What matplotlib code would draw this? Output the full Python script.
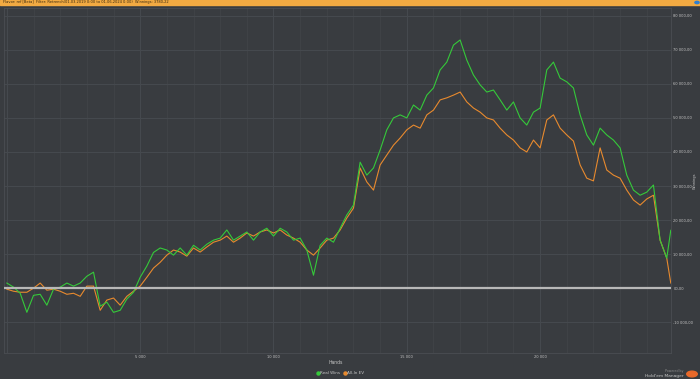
import matplotlib
matplotlib.use("Agg")
import matplotlib.pyplot as plt
from matplotlib.lines import Line2D
from matplotlib.ticker import FuncFormatter, MultipleLocator
import numpy as np

# hands played (x) every 250 hands, plus the last recorded hand
hands = list(range(0, 25000, 250)) + [24900]

# winnings in thousands
real_wins = [
    1.5, 0.3, -1.5, -7.1, -2.1, -1.8, -5.0, -0.3, 0.3, 1.5,
    0.6, 1.5, 3.5, 4.7, -5.3, -4.1, -7.1, -6.5, -3.2, -1.2,
    3.2, 6.5, 10.5, 11.8, 11.2, 9.7, 11.8, 9.7, 12.6, 11.2,
    12.9, 14.1, 14.7, 17.1, 14.1, 15.3, 16.5, 14.1, 16.5, 17.6,
    15.3, 17.6, 16.5, 14.1, 14.7, 11.2, 3.8, 12.6, 14.7, 13.5,
    17.6, 21.5, 24.4, 37.0, 33.2, 35.3, 40.6, 46.5, 50.0, 50.9,
    50.0, 53.8, 52.3, 56.7, 58.8, 64.1, 66.4, 71.4, 72.9, 67.0,
    62.6, 59.7, 57.6, 58.2, 55.3, 52.3, 54.7, 50.0, 47.9, 51.7,
    52.9, 64.1, 66.4, 61.7, 60.6, 58.8, 50.9, 45.0, 42.0, 47.0,
    45.0, 43.5, 41.2, 33.2, 28.8, 27.3, 28.2, 30.3, 14.1, 8.8,
    17.0,
]
allin_ev = [
    -0.3, -0.9, -1.2, -1.2, 0.0, 1.5, -0.6, -0.3, -0.9, -1.8,
    -1.5, -2.4, 0.6, 0.6, -6.5, -3.5, -2.9, -5.0, -2.4, -0.9,
    0.6, 3.2, 5.9, 7.6, 9.7, 11.2, 10.6, 9.4, 11.8, 10.6,
    12.1, 13.5, 14.1, 15.3, 13.5, 14.7, 16.2, 15.3, 16.5, 17.1,
    16.2, 17.1, 15.6, 14.7, 13.5, 11.2, 9.7, 11.8, 14.1, 14.7,
    17.1, 20.6, 23.5, 35.3, 31.2, 28.8, 36.2, 39.1, 42.0, 44.1,
    46.5, 47.9, 47.0, 50.9, 52.3, 55.3, 55.9, 56.7, 57.6, 54.7,
    52.9, 51.7, 50.0, 49.4, 47.0, 45.0, 43.5, 41.2, 40.0, 43.5,
    41.2, 49.4, 50.9, 47.0, 45.0, 43.2, 36.2, 32.3, 31.5, 41.2,
    34.7, 33.2, 32.3, 28.8, 25.9, 24.4, 26.2, 27.3, 14.1, 8.8,
    1.5,
]

BG = "#393c40"
GRID = "#464a4f"
TXT = "#c4c4c4"
GREEN = "#35c93a"
ORANGE = "#e88a2e"

fig = plt.figure(figsize=(7, 3.79), dpi=100, facecolor=BG)

# orange title bar
fig.patches.append(plt.Rectangle((0, 1 - 5 / 379), 1, 5 / 379, transform=fig.transFigure,
                                 color="#f2aa42", zorder=0))
fig.text(0.004, 1 - 2.5 / 379, "Flavor: ref [Beta]  Filter: Retrench(01.03.2019 0:00 to 01.06.2024 0:00)  Winnings: 3780,22",
         fontsize=2.6, color="#3a2a10", va="center", ha="left")
fig.patches.append(matplotlib.patches.Circle((697 / 700, 1 - 2.5 / 379), 0.003, transform=fig.transFigure,
                                             color="#2f7fd0"))

ax = fig.add_axes([0.006, 0.069, 0.953, 0.910], facecolor=BG)
x = np.array(hands)
ax.plot(x, np.array(real_wins) * 1000, color=GREEN, lw=0.8, zorder=3)
ax.plot(x, np.array(allin_ev) * 1000, color=ORANGE, lw=0.8, zorder=2)
ax.axhline(0, color="#b8b8b8", lw=1.6, zorder=4)

ax.set_xlim(-100, 24920)
ax.set_ylim(-19000, 82300)
ax.xaxis.set_major_locator(MultipleLocator(5000))
ax.xaxis.set_minor_locator(MultipleLocator(1000))
ax.yaxis.set_major_locator(MultipleLocator(10000))
ax.xaxis.set_major_formatter(FuncFormatter(lambda v, p: "" if v <= 0 else f"{int(v):,}".replace(",", " ")))
ax.yaxis.set_major_formatter(FuncFormatter(
    lambda v, p: f"{v:,.2f}".replace(",", " ").replace(".", ",") if v != 0 else "00,00"))
ax.yaxis.tick_right()
ax.tick_params(axis="both", which="both", length=0, labelsize=2.6, labelcolor=TXT, pad=1.5)
ax.grid(True, which="major", color=GRID, lw=0.7)
ax.grid(True, which="minor", axis="x", color="#414448", lw=0.6)
for s in ax.spines.values():
    s.set_color("#4a4d52")
    s.set_linewidth(0.6)

fig.text(0.479, 1 - 363 / 379, "Hands", fontsize=3.3, color=TXT, ha="center", va="center")
fig.text(695 / 700, 1 - 181 / 379, "Winnings", fontsize=2.6, color=TXT, rotation=90, ha="center", va="center")

handles = [Line2D([], [], marker="o", ls="none", ms=2.2, color=GREEN, label="Real Wins"),
           Line2D([], [], marker="o", ls="none", ms=2.2, color=ORANGE, label="All-In EV")]
fig.legend(handles=handles, loc="center", bbox_to_anchor=(0.486, 1 - 373 / 379), ncol=2, frameon=False,
           fontsize=3, labelcolor=TXT, handlelength=0.6, handletextpad=0.2, columnspacing=0.8)

fig.text(0.976, 1 - 371 / 379, "Powered by", fontsize=2.3, color="#8a8a8a", ha="right", va="center")
fig.text(0.976, 1 - 376 / 379, "Hold'em Manager", fontsize=3.2, color=TXT, ha="right", va="center")
fig.patches.append(matplotlib.patches.Circle((692 / 700, 1 - 374 / 379), 0.0075, transform=fig.transFigure,
                                             color="#e8692a"))

plt.savefig("out.png", dpi=100, facecolor=BG)
